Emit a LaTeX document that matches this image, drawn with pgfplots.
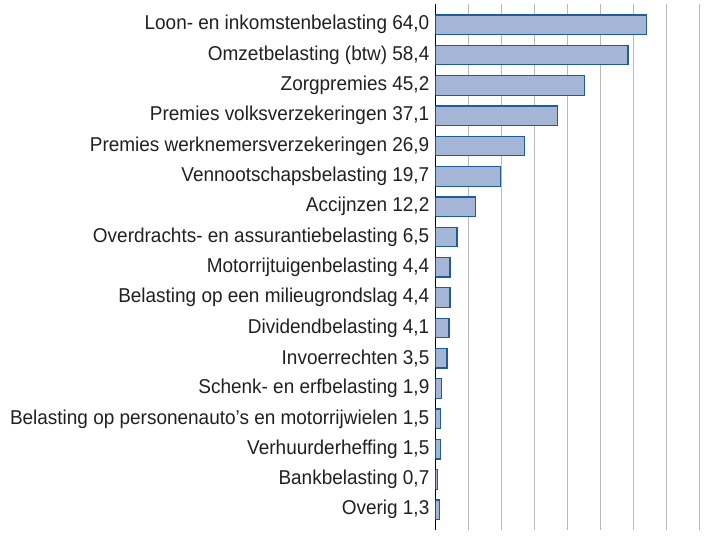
\documentclass[border=0pt]{standalone}
\usepackage{pgfplots}
\pgfplotsset{compat=1.18}
\usepackage{fontspec}
\setmainfont{Liberation Sans}[FakeStretch=0.947]
\definecolor{barfill}{RGB}{165,181,214}
\definecolor{baredge}{RGB}{30,92,160}
\definecolor{gridc}{RGB}{185,185,185}
\definecolor{txt}{RGB}{35,31,32}
\begin{document}
\begin{tikzpicture}
\begin{axis}[
  scale only axis,
  width=288pt, height=526pt,
  xmin=0, xmax=87.5,
  ymin=-0.68, ymax=16.7,
  enlargelimits=false,
  axis lines*=left,
  x axis line style={draw=none},
  y axis line style={draw=black, line width=1.2pt},
  xtick={10,20,...,80},
  xticklabels={},
  xmajorgrids,
  major grid style={draw=gridc, line width=1pt},
  major tick length=0pt,
  ytick={0,...,16},
  yticklabels={
    Overig 1{,}3,
    Bankbelasting 0{,}7,
    Verhuurderheffing 1{,}5,
    Belasting op personenauto’s en motorrijwielen 1{,}5,
    Schenk- en erfbelasting 1{,}9,
    Invoerrechten 3{,}5,
    Dividendbelasting 4{,}1,
    Belasting op een milieugrondslag 4{,}4,
    Motorrijtuigenbelasting 4{,}4,
    Overdrachts- en assurantiebelasting 6{,}5,
    Accijnzen 12{,}2,
    Vennootschapsbelasting 19{,}7,
    Premies werknemersverzekeringen 26{,}9,
    Premies volksverzekeringen 37{,}1,
    Zorgpremies 45{,}2,
    Omzetbelasting (btw) 58{,}4,
    Loon- en inkomstenbelasting 64{,}0
  },
  yticklabel style={font=\fontsize{20}{22}\selectfont, text=txt, inner sep=0pt, xshift=-6pt},
  xbar,
  bar width=19.5pt,
]
\addplot[fill=barfill, draw=baredge, line width=1.2pt] coordinates {
  (1.3,0) (0.7,1) (1.5,2) (1.5,3) (1.9,4) (3.5,5) (4.1,6) (4.4,7) (4.4,8)
  (6.5,9) (12.2,10) (19.7,11) (26.9,12) (37.1,13) (45.2,14) (58.4,15) (64.0,16)
};
\end{axis}
\path ([xshift=-10pt]current bounding box.west);
\path ([yshift=3pt]current bounding box.north);
\end{tikzpicture}
\end{document}
